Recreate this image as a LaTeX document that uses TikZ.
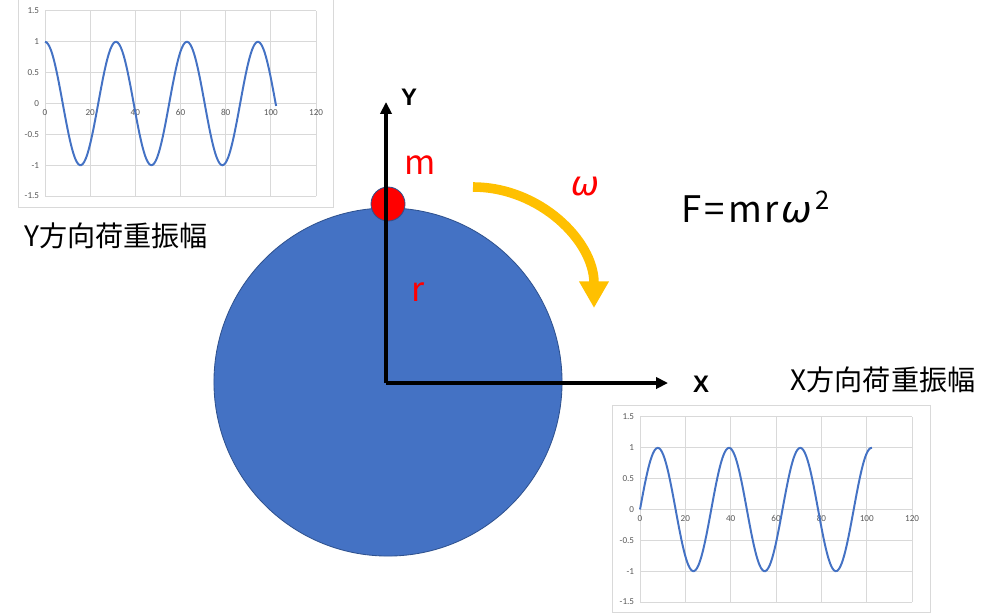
\documentclass[tikz,border=0pt]{standalone}
\usepackage{fontspec}
\setmainfont{Noto Sans CJK JP}
\newfontfamily\tickfont{Carlito}
\newfontfamily\axisfont{Liberation Sans}
\newfontfamily\greekfont{DejaVu Sans}
\usetikzlibrary{arrows.meta}

\definecolor{discblue}{HTML}{4472C4}
\definecolor{discedge}{HTML}{2F528F}
\definecolor{spinorange}{HTML}{FFC000}
\definecolor{gridgray}{HTML}{D9D9D9}
\definecolor{ticktext}{HTML}{595959}

\tikzset{
  gridline/.style={draw=gridgray, line width=0.7pt},
  frameline/.style={draw=gridgray, line width=0.7pt},
  wave/.style={draw=discblue, line width=1.4pt},
  ticklabel/.style={font=\tickfont\fontsize{6.5}{7}\selectfont, text=ticktext, inner sep=1pt},
  axisline/.style={line width=2.2pt, -{Triangle[width=8pt,length=8.5pt]}},
  axislabel/.style={font=\axisfont\bfseries\fontsize{17}{20}\selectfont},
  redlabel/.style={text=red, font=\fontsize{24}{28}\selectfont},
  caption/.style={font=\fontsize{20}{24}\selectfont},
}

\begin{document}
\begin{tikzpicture}[x=0.025cm, y=-0.025cm]
	\useasboundingbox (0,0) rectangle (1000,614);
	% Y load chart
	\draw[frameline] (18,-3) rectangle (333,207);
	\begin{scope}[shift={(45,103.5)}, x=0.05646cm, y=1.5425cm]
		\foreach \v in {0,20,...,120}
			\draw[gridline] (\v,-1.5) -- (\v,1.5);
		\foreach \v in {-1.5,-1,-0.5,0,0.5,1,1.5}
			\draw[gridline] (0,\v) -- (120,\v);
		\foreach \v [count=\k] in {-1.5,-1,-0.5,0,0.5,1,1.5}
			\node[ticklabel, anchor=east, xshift=-3pt] (yly\k) at (0,\v) {\v};
		\foreach \v [count=\k] in {0,20,...,120}
			\node[ticklabel, anchor=north, yshift=-3pt] (xly\k) at (\v,0) {\v};
		\draw[wave] plot[domain=0:102.3, samples=160, smooth] (\x,{cos(\x/5 r)});
	\end{scope}
	\node[caption] (ycap) at (116,236) {Y方向荷重振幅};
	% X load chart
	\draw[frameline] (612,405) rectangle (930,612);
	\begin{scope}[shift={(640,509.5)}, x=0.05667cm, y=1.5417cm]
		\foreach \v in {0,20,...,120}
			\draw[gridline] (\v,-1.5) -- (\v,1.5);
		\foreach \v in {-1.5,-1,-0.5,0,0.5,1,1.5}
			\draw[gridline] (0,\v) -- (120,\v);
		\foreach \v [count=\k] in {-1.5,-1,-0.5,0,0.5,1,1.5}
			\node[ticklabel, anchor=east, xshift=-3pt] (ylx\k) at (0,\v) {\v};
		\foreach \v [count=\k] in {0,20,...,120}
			\node[ticklabel, anchor=north, yshift=-3pt] (xlx\k) at (\v,0) {\v};
		\draw[wave] plot[domain=0:102.3, samples=160, smooth] (\x,{sin(\x/5 r)});
	\end{scope}
	\node[caption] (xcap) at (883,380) {X方向荷重振幅};
	% disc and mass
	\node[circle, fill=discblue, draw=discedge, line width=0.6pt, minimum size=8.7cm, inner sep=0pt] (disc) at (388,382) {};
	\node[circle, fill=red, draw=discedge, line width=0.6pt, minimum size=0.85cm, inner sep=0pt] (mass) at (388,204) {};
	% axes
	\coordinate (O) at (386,383);
	\coordinate (ytip) at (386,102);
	\coordinate (xtip) at (668,383);
	\draw[axisline] (O) -- (ytip);
	\draw[axisline] (O) -- (xtip);
	\node[axislabel] (ylab) at (409,97) {Y};
	\node[axislabel] (xlab) at (701,384) {X};
	% rotation
	\coordinate (spin) at (473,187);
	\draw[spinorange, line width=6.8pt, -{Triangle[width=20pt,length=19pt]}] (spin) arc[start angle=-90, end angle=0, radius=121];
	\node[redlabel] (mlab) at (420,165) {m};
	\node[redlabel] (rlab) at (418,292) {r};
	\node[redlabel] (omega) at (585,187) {\greekfont\itshape ω};
	\node[font=\fontsize{26}{30}\selectfont] (force) at (756,207) {F\kern2pt=\kern2pt m\kern2pt r\kern2pt{\greekfont\itshape ω}\kern2pt\textsuperscript{2}};
\end{tikzpicture}
\end{document}
